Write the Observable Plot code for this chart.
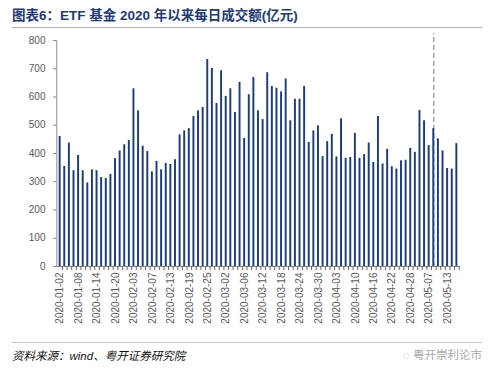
<!DOCTYPE html>
<html><head><meta charset="utf-8">
<script src="https://cdn.jsdelivr.net/npm/d3@7"></script>
<script src="https://cdn.jsdelivr.net/npm/@observablehq/plot@0.6"></script>
<style>
html,body{margin:0;padding:0;background:#fff;}
#wrap{position:relative;width:500px;height:371px;font-family:"Liberation Sans",Arial,"Noto Sans CJK SC",sans-serif;}
#title{position:absolute;left:12px;top:4px;width:470px;font-size:13.5px;font-weight:bold;color:#1f3a7a;border-bottom:1px solid #b0b0b0;padding-bottom:3px;white-space:nowrap;font-family:"Liberation Sans",Arial,"Noto Sans CJK SC",sans-serif;}
#chart{position:absolute;left:0;top:0;}
#foot{position:absolute;left:12px;top:342px;width:470px;border-top:1px solid #c8c8c8;height:24px;}
#src{position:absolute;left:0;top:4px;font-size:11.5px;font-style:italic;color:#111;}
#wm{position:absolute;right:0;top:3px;font-size:11.5px;color:#a8a8a8;}
</style></head>
<body><div id="wrap">
<div id="chart"></div>
<div id="title">图表6：ETF 基金 2020 年以来每日成交额(亿元)</div>
<div id="foot"><span id="src">资料来源：wind、粤开证券研究院</span><span id="wm">◌ 粤开崇利论市</span></div>
</div>
<script>
const dates = [
"2020-01-02","2020-01-03","2020-01-06","2020-01-07","2020-01-08","2020-01-09","2020-01-10","2020-01-13","2020-01-14","2020-01-15","2020-01-16","2020-01-17","2020-01-20","2020-01-21","2020-01-22","2020-01-23",
"2020-02-03","2020-02-04","2020-02-05","2020-02-06","2020-02-07","2020-02-10","2020-02-11","2020-02-12","2020-02-13","2020-02-14","2020-02-17","2020-02-18","2020-02-19","2020-02-20","2020-02-21","2020-02-24","2020-02-25","2020-02-26","2020-02-27","2020-02-28",
"2020-03-02","2020-03-03","2020-03-04","2020-03-05","2020-03-06","2020-03-09","2020-03-10","2020-03-11","2020-03-12","2020-03-13","2020-03-16","2020-03-17","2020-03-18","2020-03-19","2020-03-20","2020-03-23","2020-03-24","2020-03-25","2020-03-26","2020-03-27","2020-03-30","2020-03-31",
"2020-04-01","2020-04-02","2020-04-03","2020-04-07","2020-04-08","2020-04-09","2020-04-10","2020-04-13","2020-04-14","2020-04-15","2020-04-16","2020-04-17","2020-04-20","2020-04-21","2020-04-22","2020-04-23","2020-04-24","2020-04-27","2020-04-28","2020-04-29","2020-04-30",
"2020-05-06","2020-05-07","2020-05-08","2020-05-11","2020-05-12","2020-05-13","2020-05-14","2020-05-15"];
const values = [
460,354,437,339,393,339,296,342,339,315,312,326,382,409,431,446,
629,551,426,407,335,372,342,365,361,378,466,480,488,531,551,563,733,701,577,693,
602,629,545,652,453,608,669,551,520,686,637,631,618,664,516,592,592,637,439,480,498,389,
442,468,388,523,383,386,471,383,396,437,368,531,363,415,353,345,374,376,418,404,552,
516,428,488,452,409,347,345,435];
const yTicks = [0,100,200,300,400,500,600,700,800];
const markDate = ["2020-05-08"];
const markTop = [825];

const data = dates.map((d,i)=>({date:d, value:values[i]}));
const labelDates = dates.filter((d,i)=>i%4===0);
const W = 500, mL = 56, mR = 40;
const bw = (W-mL-mR)/dates.length;

const chart = Plot.plot({
  width: W, height: 340,
  marginLeft: mL, marginRight: mR, marginTop: 40, marginBottom: 74,
  style:{fontFamily:"'Liberation Sans',Arial,sans-serif", background:"transparent"},
  x:{type:"band", domain:dates, padding:0.58, axis:null},
  y:{domain:[0,800], axis:null},
  marks:[
    Plot.ruleX(markDate, {x:d=>d, y1:0, y2:markTop[0], stroke:"#7f8fa8", strokeWidth:1.2, strokeDasharray:"5,3"}),
    Plot.barY(data, {x:"date", y:"value", fill:"#1c3d7a"}),
    Plot.axisY({ticks:yTicks, tickSize:3, tickPadding:8, fontSize:10, color:"#595959", stroke:"#888", label:null}),
    Plot.ruleY([0], {stroke:"#888"}),
    Plot.ruleX([0], {x:()=>dates[0], y1:0, y2:800, stroke:"#888", dx:-bw/2-1}),
    Plot.axisX({ticks:dates, tickSize:4, tickFormat:()=>"", stroke:"#666", dx:bw/2, label:null}),
    Plot.axisX({ticks:labelDates, tickSize:0, tickPadding:6, tickRotate:-90, fontSize:10, color:"#595959", label:null})
  ]
});
document.getElementById("chart").appendChild(chart);
</script>
</body></html>
